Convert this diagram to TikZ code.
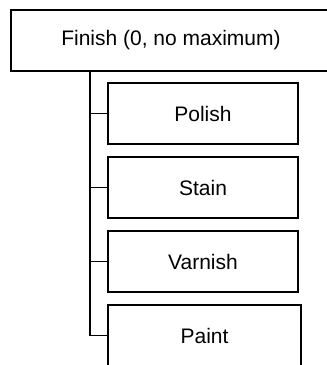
\documentclass[tikz,border=0pt]{standalone}
\usepackage{fontspec}
\setmainfont{Liberation Sans}
\usepackage{tikz}

\tikzset{
  item/.style={draw, line width=1.4pt, minimum width=190pt, minimum height=61pt,
    inner sep=0pt, font=\fontsize{21}{25}\selectfont},
  twig/.style={line width=1.4pt}
}

\begin{document}
\begin{tikzpicture}[x=1pt,y=-1pt]
\useasboundingbox (0,0) rectangle (327,365);
\clip (0,0) rectangle (327,365);
\node [item, minimum width=320pt] (finish) at (171,40.5) {Finish (0, no maximum)};
\node [item] (polish) at (203,113.5) {Polish};
\node [item] (stain) at (203,187.5) {Stain};
\node [item] (varnish) at (203,261.5) {Varnish};
\node [item, minimum width=193pt] (paint) at (204.5,335.5) {Paint};
\coordinate (trunk) at (finish.south west -| 90,0);
\draw [twig] (trunk) |- (polish.west);
\draw [twig] (trunk) |- (stain.west);
\draw [twig] (trunk) |- (varnish.west);
\draw [twig] (trunk) |- (paint.west);

\end{tikzpicture}
\end{document}
